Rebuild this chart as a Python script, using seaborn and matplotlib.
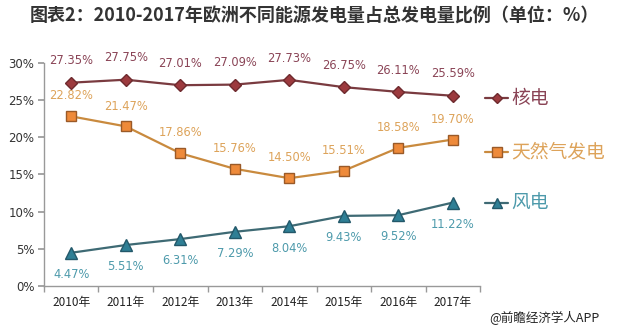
import matplotlib
matplotlib.use("Agg")
import matplotlib.pyplot as plt
import seaborn as sns
import pandas as pd
from matplotlib.lines import Line2D

years = ["2010年", "2011年", "2012年", "2013年", "2014年", "2015年", "2016年", "2017年"]
nuclear = [27.35, 27.75, 27.01, 27.09, 27.73, 26.75, 26.11, 25.59]
gas = [22.82, 21.47, 17.86, 15.76, 14.50, 15.51, 18.58, 19.70]
wind = [4.47, 5.51, 6.31, 7.29, 8.04, 9.43, 9.52, 11.22]
series_names = ["核电", "天然气发电", "风电"]
y_ticks = [0, 5, 10, 15, 20, 25, 30]

sns.set_theme(style="white")
plt.rcParams["font.family"] = ["Noto Sans CJK SC", "DejaVu Sans"]

fig = plt.figure(figsize=(6.17, 3.35), dpi=100)
ax = fig.add_axes([0.0713, 0.1463, 0.7067, 0.6657])

styles = {
    "核电": dict(line="#7a3b40", face="#9c3a3e", edge="#6e2a2e", marker="D", ms=6.5,
                 text="#8a4456", offset=11, va="bottom"),
    "天然气发电": dict(line="#c98a3e", face="#ee8a3a", edge="#9a5a28", marker="s", ms=7.5,
                  text="#dda35a", offset=10, va="bottom"),
    "风电": dict(line="#3e6a74", face="#2f7f95", edge="#23586a", marker="^", ms=8,
                 text="#4d9aab", offset=-11, va="top"),
}

frames = []
for name, vals in zip(series_names, [nuclear, gas, wind]):
    frames.append(pd.DataFrame({"x": range(len(years)), "value": vals, "series": name}))
df = pd.concat(frames, ignore_index=True)

for name in series_names:
    st = styles[name]
    sub = df[df["series"] == name]
    sns.lineplot(data=sub, x="x", y="value", ax=ax, color=st["line"], lw=1.6,
                 marker=st["marker"], markersize=st["ms"], markerfacecolor=st["face"],
                 markeredgecolor=st["edge"], markeredgewidth=1.0, legend=False)
    for xi, v in zip(sub["x"], sub["value"]):
        ax.annotate(f"{v:.2f}%", (xi, v), xytext=(0, st["offset"]), textcoords="offset points",
                    ha="center", va=st["va"], fontsize=8.3, color=st["text"],
                    family=["DejaVu Sans"])

ax.set_xlim(-0.5, len(years) - 0.5)
ax.set_ylim(0, 30)
ax.set_yticks(y_ticks)
ax.set_yticklabels([f"{t}%" for t in y_ticks], fontsize=8.5, color="#333333",
                   family=["DejaVu Sans"])
ax.set_xticks(range(len(years)))
ax.set_xticklabels(years, fontsize=8.5, color="#222222")
ax.set_xlabel("")
ax.set_ylabel("")

for s in ["top", "right"]:
    ax.spines[s].set_visible(False)
for s in ["left", "bottom"]:
    ax.spines[s].set_color("#999999")
    ax.spines[s].set_linewidth(1.0)

ax.tick_params(axis="y", which="major", length=4, color="#999999", direction="out", pad=3, left=True)
ax.tick_params(axis="x", which="major", length=0, pad=7)
ax.set_xticks([i - 0.5 for i in range(len(years) + 1)], minor=True)
ax.tick_params(axis="x", which="minor", length=4, color="#999999", direction="out", bottom=True)

# legend entries on the right
legend_y = [0.707, 0.546, 0.394]
for name, ly in zip(series_names, legend_y):
    st = styles[name]
    fig.add_artist(Line2D([0.786, 0.824], [ly, ly], transform=fig.transFigure,
                          color=st["line"], lw=1.6))
    fig.add_artist(Line2D([0.805], [ly], transform=fig.transFigure, lw=0,
                          marker=st["marker"], markersize=st["ms"] - 1,
                          markerfacecolor=st["face"], markeredgecolor=st["edge"]))
    fig.text(0.828, ly, name, fontsize=13.5, color=st["text"], va="center", ha="left")

fig.text(0.048, 0.953, "图表2：2010-2017年欧洲不同能源发电量占总发电量比例（单位：%）",
         fontsize=13, fontweight="bold", color="#333333", va="center", ha="left")
fig.text(0.972, 0.05, "@前瞻经济学人APP", fontsize=9, color="#222222",
         va="center", ha="right")

fig.savefig("out.png", dpi=100, facecolor="white")
